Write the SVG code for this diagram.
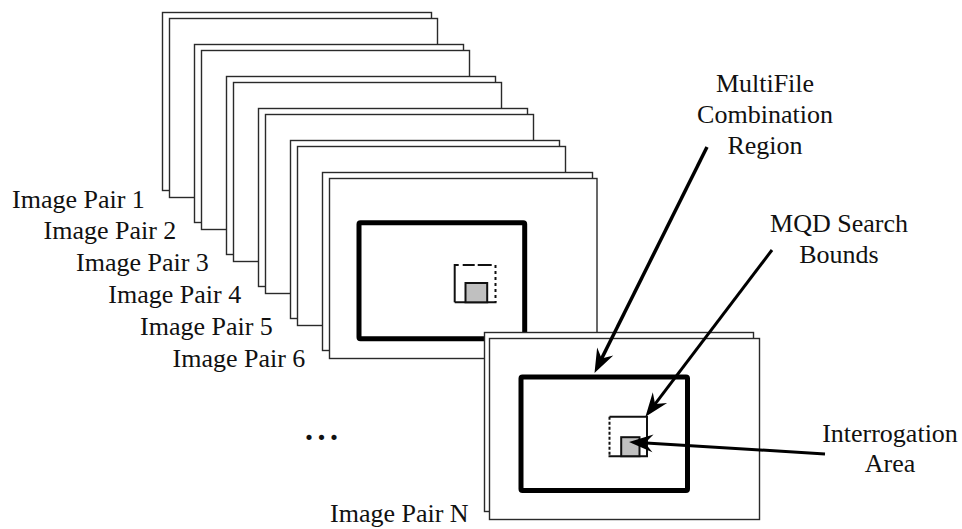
<svg xmlns="http://www.w3.org/2000/svg" width="962" height="529" viewBox="0 0 962 529">
<style>
.fr{fill:#fff;stroke:#2a2a2a;stroke-width:1.4}
.thick{fill:none;stroke:#000;stroke-width:5;stroke-linejoin:round}
.sb{fill:none;stroke:#111;stroke-width:2}
.gray{fill:#c0c0c0;stroke:#111;stroke-width:2}
.lbl{font-size:26px;fill:#111}
.ctr{text-anchor:middle}
.arr{fill:none;stroke:#000;stroke-linecap:butt}
</style>
<defs>
<marker id="ah" markerUnits="userSpaceOnUse" markerWidth="26" markerHeight="18" refX="12" refY="0" orient="auto" style="overflow:visible">
<path d="M25,0 L1,-9 L9,0 L1,9 Z" fill="#000"/>
</marker>
</defs>
<rect width="962" height="529" fill="#fff"/>

<g id="pair1"><rect class="fr" x="162.5" y="12.5" width="269" height="178"/><rect class="fr" x="169.5" y="18.5" width="268" height="179"/></g>
<g id="pair2"><rect class="fr" x="194.5" y="44.5" width="269" height="178"/><rect class="fr" x="201.5" y="50.5" width="268" height="179"/></g>
<g id="pair3"><rect class="fr" x="226.5" y="76.5" width="269" height="178"/><rect class="fr" x="233.5" y="82.5" width="268" height="179"/></g>
<g id="pair4"><rect class="fr" x="258.5" y="108.5" width="269" height="178"/><rect class="fr" x="265.5" y="114.5" width="268" height="179"/></g>
<g id="pair5"><rect class="fr" x="290.5" y="140.5" width="269" height="178"/><rect class="fr" x="297.5" y="146.5" width="268" height="179"/></g>
<g id="pair6">
<rect class="fr" x="322.5" y="172.5" width="270" height="178"/>
<rect class="fr" x="329.5" y="178.5" width="267.5" height="180"/>
<rect class="thick" x="359" y="222.8" width="165.7" height="116" rx="1.5"/>
<g id="search6">
<line class="sb" x1="454.7" y1="264" x2="454.7" y2="302.3"/>
<line class="sb" x1="454.7" y1="265" x2="495.5" y2="265" stroke-dasharray="4 4 12 3 14"/>
<line class="sb" x1="495.5" y1="265" x2="495.5" y2="302.3" stroke-dasharray="3 3"/>
<line class="sb" x1="454.7" y1="302.3" x2="496.5" y2="302.3"/>
<rect class="gray" x="465.5" y="283" width="21.7" height="19.3"/>
</g>
</g>
<g id="pairN">
<rect class="fr" x="484.5" y="332.5" width="269" height="179"/>
<rect class="fr" x="489.5" y="338.5" width="270" height="181"/>
<rect class="thick" x="521" y="377" width="166.5" height="113.5" rx="1.5"/>
<g id="searchN">
<line class="sb" x1="609.5" y1="416.7" x2="609.5" y2="456.2" stroke-dasharray="3 2"/>
<polyline class="sb" points="609.5,416.7 647,416.7 647,456.2 608.5,456.2"/>
<rect class="gray" x="621.2" y="437.2" width="18.3" height="19"/>
</g>
</g>

<g id="connectors">
<line class="arr" x1="707" y1="147" x2="600.3" y2="361.3" stroke-width="3.5" marker-end="url(#ah)"/>
<line class="arr" x1="772" y1="250" x2="653.3" y2="406.4" stroke-width="3" marker-end="url(#ah)"/>
<line class="arr" x1="825" y1="454" x2="642" y2="442.7" stroke-width="3" marker-end="url(#ah)"/>
</g>

<g id="labels" font-family="'Liberation Serif', 'Times New Roman', 'DejaVu Serif', serif">
<text class="lbl" x="12" y="207.7">Image Pair 1</text>
<text class="lbl" x="43.5" y="239.4">Image Pair 2</text>
<text class="lbl" x="76" y="271.1">Image Pair 3</text>
<text class="lbl" x="108.3" y="303">Image Pair 4</text>
<text class="lbl" x="140" y="334.8">Image Pair 5</text>
<text class="lbl" x="172.5" y="366.7">Image Pair 6</text>
<text class="lbl" x="330" y="522">Image Pair N</text>
<text class="lbl" x="305" y="440" style="font-size:32px;font-weight:bold;letter-spacing:4.5px">...</text>
<text class="lbl ctr" x="765" y="91.5">MultiFile</text>
<text class="lbl ctr" x="765" y="123">Combination</text>
<text class="lbl ctr" x="765" y="153.5">Region</text>
<text class="lbl ctr" x="839" y="231.7">MQD Search</text>
<text class="lbl ctr" x="839" y="263.3">Bounds</text>
<text class="lbl ctr" x="890" y="441.7">Interrogation</text>
<text class="lbl ctr" x="890" y="471.7">Area</text>
</g>
</svg>
